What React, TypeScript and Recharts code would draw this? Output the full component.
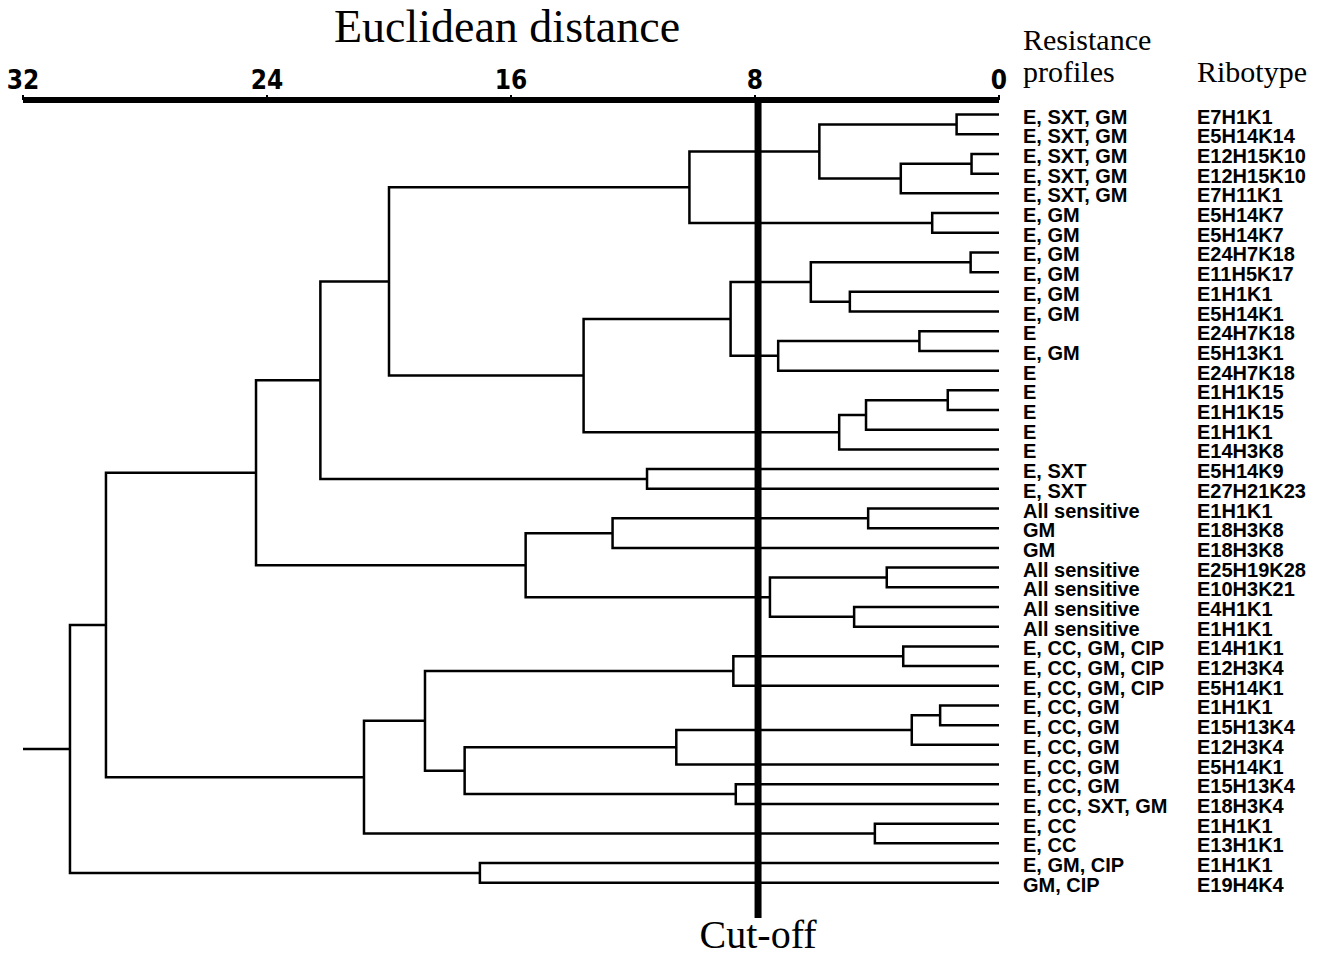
import React from "react";
import { ScatterChart, Scatter, XAxis, YAxis, ReferenceLine } from "recharts";

// resistance profile and ribotype of each strain, top to bottom
const profiles = [
  "E, SXT, GM", "E, SXT, GM", "E, SXT, GM", "E, SXT, GM", "E, SXT, GM",
  "E, GM", "E, GM", "E, GM", "E, GM", "E, GM", "E, GM",
  "E", "E, GM", "E", "E", "E", "E", "E",
  "E, SXT", "E, SXT",
  "All sensitive", "GM", "GM",
  "All sensitive", "All sensitive", "All sensitive", "All sensitive",
  "E, CC, GM, CIP", "E, CC, GM, CIP", "E, CC, GM, CIP",
  "E, CC, GM", "E, CC, GM", "E, CC, GM", "E, CC, GM", "E, CC, GM",
  "E, CC, SXT, GM", "E, CC", "E, CC", "E, GM, CIP", "GM, CIP",
];

const ribotypes = [
  "E7H1K1", "E5H14K14", "E12H15K10", "E12H15K10", "E7H11K1",
  "E5H14K7", "E5H14K7", "E24H7K18", "E11H5K17", "E1H1K1", "E5H14K1",
  "E24H7K18", "E5H13K1", "E24H7K18", "E1H1K15", "E1H1K15", "E1H1K1", "E14H3K8",
  "E5H14K9", "E27H21K23",
  "E1H1K1", "E18H3K8", "E18H3K8",
  "E25H19K28", "E10H3K21", "E4H1K1", "E1H1K1",
  "E14H1K1", "E12H3K4", "E5H14K1",
  "E1H1K1", "E15H13K4", "E12H3K4", "E5H14K1", "E15H13K4",
  "E18H3K4", "E1H1K1", "E13H1K1", "E1H1K1", "E19H4K4",
];

// linkage rows [left, right, distance]; ids < 40 are strains, 40 + k is row k
const merges: [number, number, number][] = [
  [0, 1, 1.39], // 40
  [2, 3, 0.9], // 41
  [41, 4, 3.22], // 42
  [40, 42, 5.89], // 43
  [5, 6, 2.19], // 44
  [43, 44, 10.15], // 45
  [7, 8, 0.93], // 46
  [9, 10, 4.89], // 47
  [46, 47, 6.17], // 48
  [11, 12, 2.61], // 49
  [49, 13, 7.24], // 50
  [48, 50, 8.8], // 51
  [14, 15, 1.68], // 52
  [52, 16, 4.36], // 53
  [53, 17, 5.24], // 54
  [51, 54, 13.62], // 55
  [45, 55, 20.0], // 56
  [18, 19, 11.54], // 57
  [56, 57, 22.25], // 58
  [20, 21, 4.29], // 59
  [59, 22, 12.67], // 60
  [23, 24, 3.68], // 61
  [25, 26, 4.75], // 62
  [61, 62, 7.51], // 63
  [60, 63, 15.52], // 64
  [58, 64, 24.36], // 65
  [27, 28, 3.14], // 66
  [66, 29, 8.71], // 67
  [30, 31, 1.93], // 68
  [68, 32, 2.86], // 69
  [69, 33, 10.58], // 70
  [34, 35, 8.63], // 71
  [70, 71, 17.52], // 72
  [67, 72, 18.82], // 73
  [36, 37, 4.07], // 74
  [73, 74, 20.82], // 75
  [65, 75, 29.28], // 76
  [38, 39, 17.02], // 77
  [76, 77, 30.46], // 78
];

const distTicks = [0, 8, 16, 24, 32];
const cutOff = 7.9;

const leafIdx = profiles.map((_, i) => i);

// elbow paths for every merge, built from the linkage
const nodeY: number[] = leafIdx.slice();
const nodeH: number[] = leafIdx.map(() => 0);
const branches = merges.map(([a, b, h]) => {
  const pts = [
    { x: nodeH[a], y: nodeY[a] },
    { x: h, y: nodeY[a] },
    { x: h, y: nodeY[b] },
    { x: nodeH[b], y: nodeY[b] },
  ];
  nodeY.push((nodeY[a] + nodeY[b]) / 2);
  nodeH.push(h);
  return pts;
});
const root = nodeY.length - 1;
const rootStub = [
  { x: nodeH[root], y: nodeY[root] },
  { x: 32, y: nodeY[root] },
];

const serif = "'Liberation Serif', 'Times New Roman', serif";
const sans = "'Liberation Sans', Arial, Helvetica, sans-serif";

const LeafLabel = (props: any) => {
  const { x, y, payload } = props;
  const i = payload.value;
  return (
    <g>
      <text x={x + 24} y={y} dy="0.45em" fontSize={20} fontWeight="bold" fontFamily={sans} fill="#000">
        {profiles[i]}
      </text>
      <text x={x + 198} y={y} dy="0.45em" fontSize={20} fontWeight="bold" fontFamily={sans} fill="#000">
        {ribotypes[i]}
      </text>
    </g>
  );
};

const noDot = () => <g />;

export default function App() {
  // negative margin cancels the body margin so the chart covers the whole page
  return (
    <div style={{ position: "relative", margin: -8, width: 1324, height: 959, background: "#fff" }}>
      <ScatterChart
        width={1324}
        height={959}
        margin={{ top: 70, right: 0, bottom: 41, left: 23 }}
      >
        <XAxis
          type="number"
          dataKey="x"
          orientation="top"
          domain={[0, 32]}
          reversed
          allowDataOverflow
          ticks={distTicks}
          interval={0}
          height={30}
          axisLine={{ stroke: "#000", strokeWidth: 6 }}
          tickLine={{ stroke: "#000", strokeWidth: 2 }}
          tickSize={5}
          tickMargin={6}
          tick={{
            fill: "#000",
            fontSize: 26,
            fontWeight: "bold",
            fontFamily: "'Liberation Sans Narrow', 'DejaVu Sans Condensed', sans-serif",
          }}
        />
        <YAxis
          type="number"
          dataKey="y"
          orientation="right"
          domain={[-0.74, 40.79]}
          reversed
          allowDataOverflow
          ticks={leafIdx}
          interval={0}
          width={325}
          axisLine={false}
          tickLine={false}
          tickSize={0}
          tickMargin={0}
          tick={<LeafLabel />}
        />
        {branches.map((pts, i) => (
          <Scatter
            key={i}
            data={pts}
            line={{ stroke: "#000", strokeWidth: 2.5 }}
            shape={noDot}
            isAnimationActive={false}
          />
        ))}
        <Scatter
          data={rootStub}
          line={{ stroke: "#000", strokeWidth: 2.5 }}
          shape={noDot}
          isAnimationActive={false}
        />
        <ReferenceLine
          x={cutOff}
          stroke="#000"
          strokeWidth={7}
          label={{
            value: "Cut-off",
            position: "bottom",
            offset: 2,
            fill: "#000",
            fontSize: 40,
            fontFamily: serif,
          }}
        />
      </ScatterChart>
      <svg
        width={1324}
        height={959}
        style={{ position: "absolute", left: 0, top: 0, pointerEvents: "none", overflow: "visible" }}
      >
        <text x={507} y={42} textAnchor="middle" fontSize={46} fontFamily={serif} fill="#000">
          Euclidean distance
        </text>
        <text x={1023} y={50} fontSize={30} fontFamily={serif} fill="#000">
          Resistance
        </text>
        <text x={1023} y={82} fontSize={30} fontFamily={serif} fill="#000">
          profiles
        </text>
        <text x={1197} y={82} fontSize={30} fontFamily={serif} fill="#000">
          Ribotype
        </text>
      </svg>
    </div>
  );
}
